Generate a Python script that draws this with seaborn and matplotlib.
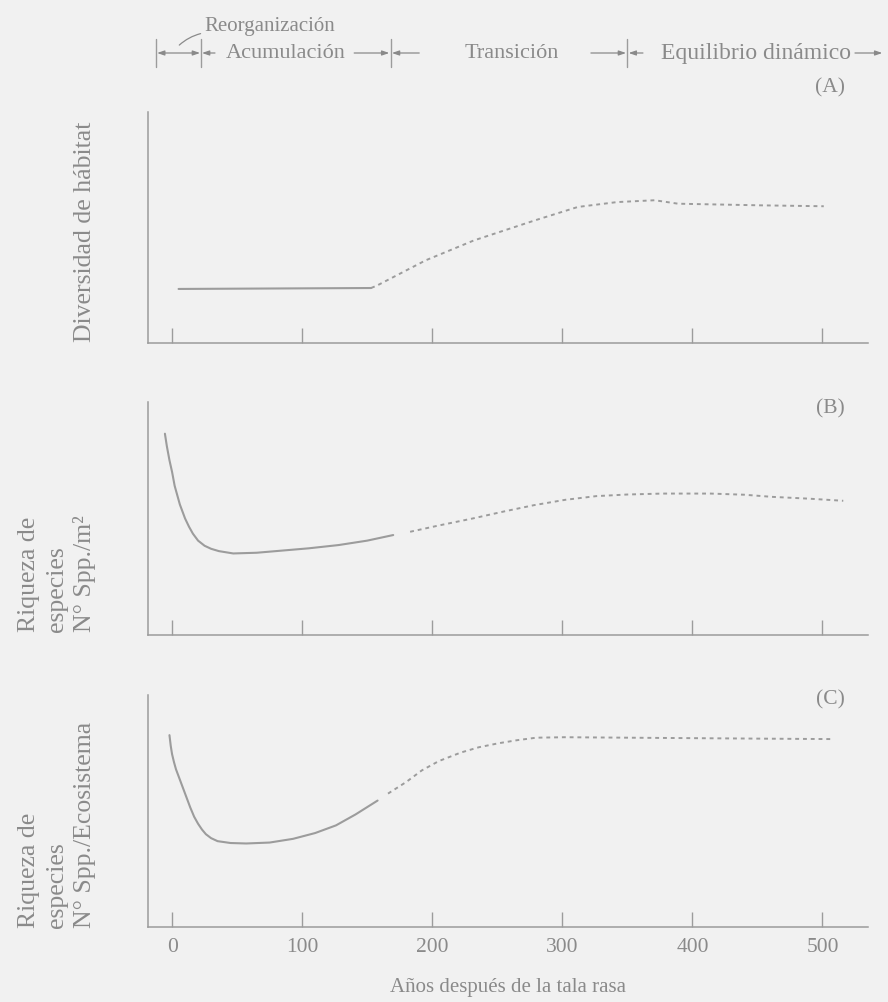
import matplotlib
matplotlib.use("Agg")
import matplotlib.pyplot as plt
import matplotlib.transforms as mtransforms
import pandas as pd
import seaborn as sns

# --- data (years after clear-cut vs. relative level, 0-100 per panel) ---
a_solid_x = [5, 153]
a_solid_y = [23.4, 23.8]
a_dash_x = [153, 158, 195, 232, 279, 312, 342, 371, 389, 452, 501]
a_dash_y = [23.8, 25.0, 35.8, 44.4, 53.1, 58.9, 61.0, 61.8, 60.3, 59.6, 59.2]

b_solid_x = [-5.5, -4, -2, 0, 2, 4, 6, 8, 10, 13, 16, 20, 25, 30, 36, 47, 65, 84, 105, 128, 150, 170]
b_solid_y = [86.4, 81, 75, 70, 64, 60, 56, 53, 50, 46.5, 43.5, 40.5, 38.3, 37, 36, 35, 35.3, 36.2, 37.2, 38.6, 40.5, 42.9]
b_dash_x = [183, 205, 231, 255, 278, 302, 326, 350, 377, 414, 440, 461, 490, 516]
b_dash_y = [44.3, 47, 50, 53, 55.7, 58, 59.6, 60.3, 60.7, 60.7, 60.2, 59.3, 58.5, 57.6]

c_solid_x = [-2, -1, 0, 1.5, 3, 5, 7, 9, 11, 14, 17, 20, 23, 26, 30, 35, 45, 57, 75, 93, 110, 126, 141, 158]
c_solid_y = [82.7, 78, 74.5, 71, 68, 65, 62, 59, 56, 51.5, 47.5, 44.5, 42, 40, 38.3, 37, 36.2, 36, 36.4, 38, 40.5, 43.8, 48.5, 54.5]
c_dash_x = [166, 180, 192, 205, 222, 236, 251, 265, 280, 302, 350, 400, 450, 507]
c_dash_y = [57.5, 62.5, 67.5, 71.5, 75.2, 77.5, 79.2, 80.5, 81.6, 81.8, 81.6, 81.4, 81.2, 81]

x_ticks = [0, 100, 200, 300, 400, 500]
x_label = "Años después de la tala rasa"
panel_tags = ["(A)", "(B)", "(C)"]
y_labels = [
    ["Diversidad de hábitat"],
    ["Riqueza de", "especies", "N° Spp./m²"],
    ["Riqueza de", "especies", "N° Spp./Ecosistema"],
]

# phase boundaries (years) and phase names for the header
phase_bounds = [-12, 22, 168, 350]
phase_end = 546
phase_names = ["Reorganización", "Acumulación", "Transición", "Equilibrio dinámico"]

# --- styling ---
sns.set_theme(style="ticks")
BG = "#f1f1f1"
INK = "#8a8a8a"
LINE = "#9c9c9c"
plt.rcParams["font.family"] = ["Liberation Serif", "DejaVu Serif"]
plt.rcParams["text.color"] = INK
plt.rcParams["axes.edgecolor"] = LINE
plt.rcParams["xtick.color"] = LINE
plt.rcParams["xtick.labelcolor"] = INK

fig = plt.figure(figsize=(8.88, 10.02), dpi=100, facecolor=BG)

left, width = 148 / 888, 720 / 888
rects = [
    (left, 1 - 343 / 1002, width, 231 / 1002),
    (left, 1 - 635 / 1002, width, 233 / 1002),
    (left, 1 - 927 / 1002, width, 232 / 1002),
]
series = [
    (a_solid_x, a_solid_y, a_dash_x, a_dash_y),
    (b_solid_x, b_solid_y, b_dash_x, b_dash_y),
    (c_solid_x, c_solid_y, c_dash_x, c_dash_y),
]

axes = []
for i, (rect, (sx, sy, dx, dy)) in enumerate(zip(rects, series)):
    ax = fig.add_axes(rect)
    ax.set_facecolor(BG)
    df_s = pd.DataFrame({"x": sx, "y": sy})
    df_d = pd.DataFrame({"x": dx, "y": dy})
    sns.lineplot(data=df_s, x="x", y="y", ax=ax, color=LINE, lw=1.5,
                 sort=False, estimator=None)
    sns.lineplot(data=df_d, x="x", y="y", ax=ax, color=LINE, lw=1.4,
                 linestyle=(0, (2.0, 2.0)), sort=False, estimator=None)
    ax.set_xlim(-18.5, 535)
    ax.set_ylim(0, 100)
    ax.set_yticks([])
    ax.set_xticks(x_ticks)
    ax.tick_params(axis="x", direction="in", length=11, width=1.0, pad=8,
                   labelsize=15.5)
    for s in ("top", "right"):
        ax.spines[s].set_visible(False)
    for s in ("left", "bottom"):
        ax.spines[s].set_linewidth(1.1)
        ax.spines[s].set_color(LINE)
    ax.set_xlabel("")
    ax.set_ylabel("")
    if i < 2:
        ax.set_xticklabels([])
    axes.append(ax)

axes[2].set_xlabel(x_label, fontsize=15, color=INK, labelpad=15)

# panel tags
tag_y = [1 - 88 / 1002, 1 - 409 / 1002, 1 - 700 / 1002]
for ax, tag, ty in zip(axes, panel_tags, tag_y):
    tr = mtransforms.blended_transform_factory(ax.transData, fig.transFigure)
    ax.text(506, ty, tag, transform=tr, fontsize=15.5, ha="center", va="center")

# y labels (rotated, stacked lines)
fig.text(85 / 888, 1 - 232 / 1002, y_labels[0][0], rotation=90, fontsize=18.5,
         ha="center", va="center")
for lines, bottom in zip(y_labels[1:], [1 - 632 / 1002, 1 - 928 / 1002]):
    for j, txt in enumerate(lines):
        fig.text((29 + 28 * j) / 888, bottom, txt, rotation=90, fontsize=18.5,
                 ha="center", va="bottom")

# header with successional phases
axA = axes[0]
htr = mtransforms.blended_transform_factory(axA.transData, fig.transFigure)
row_y = 1 - 53 / 1002
bar_lo, bar_hi = 1 - 67 / 1002, 1 - 39 / 1002
for b in phase_bounds:
    axA.plot([b, b], [bar_lo, bar_hi], transform=htr, color=LINE, lw=1.0,
             clip_on=False)

arrow_kw = dict(arrowstyle="-|>,head_length=0.35,head_width=0.12", color=INK,
                lw=0.9, shrinkA=0, shrinkB=0)
dbl_kw = dict(arrowstyle="<|-|>,head_length=0.35,head_width=0.12", color=INK,
              lw=0.9, shrinkA=0, shrinkB=0)

def arrow(x0, x1, kw=arrow_kw):
    axA.annotate("", xy=(x1, row_y), xytext=(x0, row_y), xycoords=htr,
                 textcoords=htr, arrowprops=kw, annotation_clip=False)

hsize = 16
# Reorganización: double arrow between the first two bars
arrow(phase_bounds[0] + 0.5, phase_bounds[1] - 0.5, dbl_kw)
axA.text(25, 1 - 27 / 1002, phase_names[0], transform=htr, fontsize=15,
         ha="left", va="center")
axA.annotate("", xy=(4, 1 - 47 / 1002), xytext=(24, 1 - 33 / 1002),
             xycoords=htr, textcoords=htr, annotation_clip=False,
             arrowprops=dict(arrowstyle="-", color=INK, lw=0.9,
                             connectionstyle="arc3,rad=0.15"))

# Acumulación
axA.text(87, row_y, phase_names[1], transform=htr, fontsize=hsize,
         ha="center", va="center")
arrow(33, phase_bounds[1] + 1)
arrow(140, phase_bounds[2] - 1)

# Transición
axA.text(261, row_y, phase_names[2], transform=htr, fontsize=hsize,
         ha="center", va="center")
arrow(190, phase_bounds[2] + 1)
arrow(322, phase_bounds[3] - 1)

# Equilibrio dinámico
axA.text(449, row_y, phase_names[3], transform=htr, fontsize=17,
         ha="center", va="center")
arrow(362, phase_bounds[3] + 1)
arrow(525, phase_end)

fig.savefig("out.png", dpi=100, facecolor=BG)
